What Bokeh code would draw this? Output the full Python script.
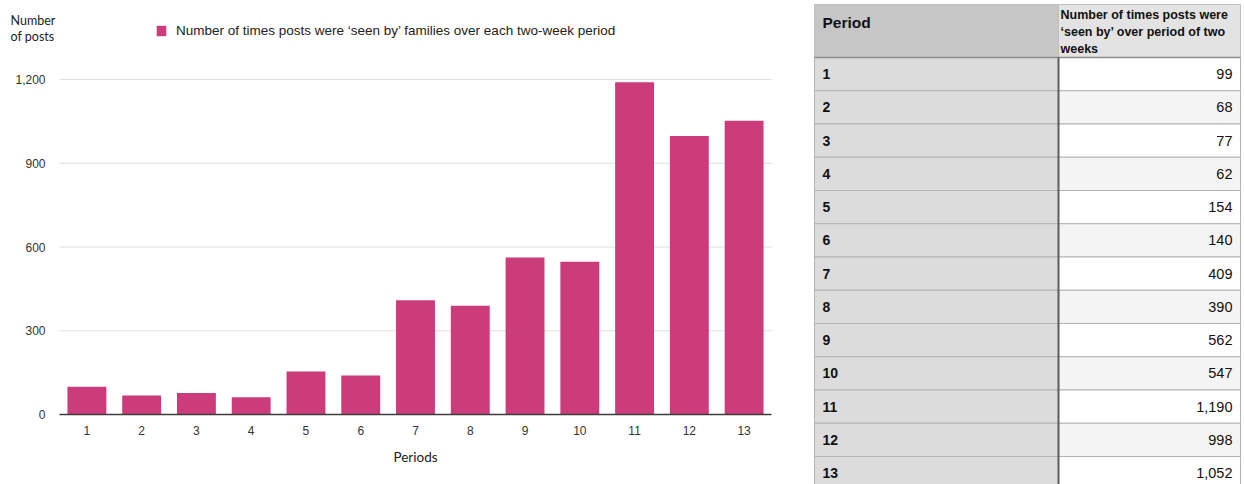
from bokeh.plotting import figure
from bokeh.layouts import row
from bokeh.models import (ColumnDataSource, FixedTicker, Range1d, Legend, LegendItem)
from bokeh.embed import file_html
from bokeh.resources import INLINE
from bokeh.core.properties import value

# ---- data -------------------------------------------------------------
periods = list(range(1, 14))
seen_by = [99, 68, 77, 62, 154, 140, 409, 390, 562, 547, 1190, 998, 1052]
y_ticks = [0, 300, 600, 900, 1200]
y_tick_labels = ["0", "300", "600", "900", "1,200"]
series_name = "Number of times posts were \u2018seen by\u2019 families over each two-week period"
y_title = "Number\nof posts"
x_title = "Periods"
table_headers = ["Period",
                 "Number of times posts were\n\u2018seen by\u2019 over period of two\nweeks"]

BAR = "#cc3c7a"
SANS = "Liberation Sans"
CAL = "Lato"

# ---- bar chart --------------------------------------------------------
# the frame fills the whole figure; the plotting area runs from
# x = 0.5 to 13.5 and y = 0 to 1200, the margins hold titles and labels
src = ColumnDataSource(dict(period=periods, seen=seen_by))

unit_px = (771 - 59) / 13.0          # pixels per period
val_px = 335 / 1200.0                # pixels per post
p = figure(width=800, height=484,
           x_range=Range1d(0.5 - 59 / unit_px, 13.5 + 29 / unit_px),
           y_range=Range1d(-70 / val_px, 414 / val_px),
           output_backend="svg", toolbar_location=None,
           y_axis_location=None,
           min_border=0)
p.frame_align = False
p.outline_line_color = None
p.background_fill_color = "white"
p.grid.grid_line_color = None

# horizontal gridlines across the plotting area
p.segment(x0=0.5, x1=13.5, y0=y_ticks, y1=y_ticks, line_color="#dedede", line_width=1)

bars = p.vbar(x="period", top="seen", width=0.71, source=src,
              fill_color=BAR, line_color=None)

# value-axis labels and title
p.text(x=[0.5] * len(y_ticks), y=y_ticks, text=y_tick_labels, x_offset=-14,
       text_align="right", text_baseline="middle", text_font=value(SANS),
       text_font_size="12px", text_color="#333333")
p.text(x=[0.5], y=[p.y_range.end], text=[y_title], x_offset=-49, y_offset=12,
       text_align="left", text_baseline="top", text_font=value(CAL),
       text_font_size="12.5px", text_color="#222222", text_line_height=1.1)

# category axis sits on the zero line
p.xaxis.fixed_location = 0
p.xaxis.bounds = (0.5, 13.5)
p.xaxis.ticker = FixedTicker(ticks=periods)
p.xaxis.minor_tick_line_color = None
p.xaxis.axis_line_color = "#3c3c3c"
p.xaxis.axis_line_width = 1.6
p.xaxis.major_tick_line_color = None
p.xaxis.major_tick_out = 0
p.xaxis.major_tick_in = 0
p.xaxis.major_label_standoff = 11
p.xaxis.major_label_text_font = SANS
p.xaxis.major_label_text_font_size = "12px"
p.xaxis.major_label_text_color = "#333333"

p.text(x=[(periods[0] + periods[-1]) / 2], y=[0], text=[x_title], y_offset=42,
       text_align="center", text_baseline="middle", text_font=value(CAL),
       text_font_size="13.5px", text_color="#222222")

legend = Legend(items=[LegendItem(label=series_name, renderers=[bars])],
                location=(155, 446), orientation="horizontal",
                glyph_width=12, glyph_height=13, label_height=13,
                label_standoff=9, padding=0, margin=0, spacing=0,
                border_line_color=None, background_fill_alpha=0,
                label_text_font=SANS, label_text_font_size="13.5px",
                label_text_color="#222222", label_text_baseline="middle")
p.add_layout(legend, "center")

# ---- data table -------------------------------------------------------
t = figure(width=444, height=484,
           x_range=Range1d(0, 444), y_range=Range1d(484, 0),
           output_backend="svg", toolbar_location=None,
           x_axis_location=None, y_axis_location=None,
           min_border=0)
t.frame_align = False
t.outline_line_color = None
t.grid.grid_line_color = None

left_x, mid_x, right_x = 14, 258, 440
head_top, head_bot, row_h = 4, 57, 33.25

row_top = [head_bot + i * row_h for i in range(len(periods))]
row_bot = [v + row_h for v in row_top]
row_mid = [v + row_h / 2 for v in row_top]
value_fill = ["#ffffff" if i % 2 == 0 else "#f4f4f4" for i in range(len(periods))]

# header cells
t.quad(left=[left_x, mid_x], right=[mid_x, right_x], top=[head_top] * 2, bottom=[head_bot] * 2,
       fill_color=["#c6c6c6", "#e3e3e3"], line_color="#c0c0c0", line_width=1)
# body cells
t.quad(left=left_x, right=mid_x, top=row_top, bottom=row_bot,
       fill_color="#dcdcdc", line_color="#b2b2b2", line_width=1)
t.quad(left=mid_x, right=right_x, top=row_top, bottom=row_bot,
       fill_color=value_fill, line_color="#b2b2b2", line_width=1)
# separators
t.segment(x0=[left_x], y0=[head_bot], x1=[right_x], y1=[head_bot],
          line_color="#8c8c8c", line_width=1.5)
t.segment(x0=[mid_x], y0=[head_bot], x1=[mid_x], y1=[484],
          line_color="#5c5c5c", line_width=2)

t.text(x=[22], y=[22], text=[table_headers[0]], text_font=value(SANS),
       text_font_style="bold", text_font_size="15.5px", text_color="#111111",
       text_baseline="middle")
t.text(x=[260], y=[7], text=[table_headers[1]], text_font=value(SANS),
       text_font_style="bold", text_font_size="12.5px", text_color="#111111",
       text_baseline="top", text_line_height=1.24)

t.text(x=[22] * len(periods), y=row_mid, text=[str(v) for v in periods],
       text_font=value(SANS), text_font_style="bold", text_font_size="14px",
       text_color="#111111", text_baseline="middle")
t.text(x=[432] * len(periods), y=row_mid, text=[f"{v:,}" for v in seen_by],
       text_font=value(SANS), text_font_size="14.5px", text_color="#111111",
       text_baseline="middle", text_align="right")

layout = row(p, t)
open("out.html", "w").write(file_html(layout, INLINE))
